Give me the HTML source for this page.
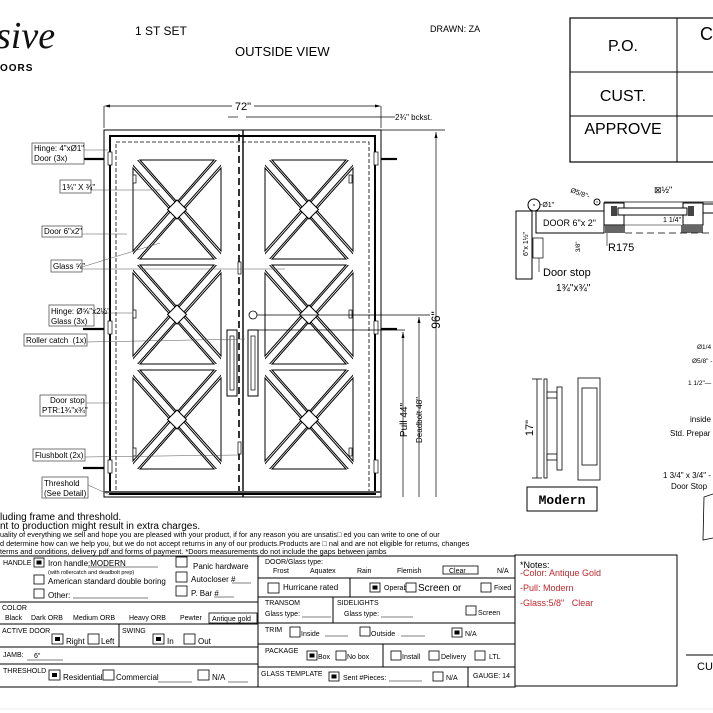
<!DOCTYPE html>
<html><head><meta charset="utf-8"><style>
html,body{margin:0;padding:0;background:#fff;}
svg{display:block;font-family:"Liberation Sans",sans-serif;}
text{white-space:pre;}
.t{font-size:8px;}
.s{font-size:7px;}
.lb{fill:#fff;stroke:#555;stroke-width:0.8;}
</style></head><body>
<svg width="713" height="713" viewBox="0 0 713 713" xmlns="http://www.w3.org/2000/svg" xml:space="preserve">
<defs>
<clipPath id="pc"><rect x="0" y="0" width="88" height="99"/></clipPath>
<g id="panel">
  <g clip-path="url(#pc)">
    <line x1="0" y1="0" x2="88" y2="99" stroke="#000" stroke-width="8"/>
    <line x1="88" y1="0" x2="0" y2="99" stroke="#000" stroke-width="8"/>
    <line x1="0" y1="0" x2="88" y2="99" stroke="#fff" stroke-width="6"/>
    <line x1="88" y1="0" x2="0" y2="99" stroke="#fff" stroke-width="6"/>
  </g>
  <polygon points="7,0 81,0 44,42" fill="none" stroke="#000" stroke-width="1"/>
  <polygon points="7,99 81,99 44,57" fill="none" stroke="#000" stroke-width="1"/>
  <polygon points="0,8 0,91 37,49.5" fill="none" stroke="#000" stroke-width="1"/>
  <polygon points="88,8 88,91 51,49.5" fill="none" stroke="#000" stroke-width="1"/>
  <polygon points="44,40 53.5,49.5 44,59 34.5,49.5" fill="#fff" stroke="#000" stroke-width="1"/>
</g>
</defs>

<text x="-4" y="48" font-family="Liberation Serif,serif" font-style="italic" font-size="38" fill="#111">sive</text>
<text x="0" y="71" font-size="10" font-weight="bold" letter-spacing="1">OORS</text>

<text x="135" y="35" font-size="12">1 ST SET</text>
<text x="235" y="56" font-size="13">OUTSIDE VIEW</text>
<text x="430" y="32" font-size="9">DRAWN: ZA</text>

<rect x="570" y="18" width="150" height="144" fill="none" stroke="#000" stroke-width="1.2"/>
<line x1="570" y1="72" x2="713" y2="72" stroke="#000"/>
<line x1="570" y1="116" x2="713" y2="116" stroke="#000"/>
<line x1="677" y1="18" x2="677" y2="162" stroke="#000"/>
<text x="623" y="51" font-size="16" text-anchor="middle">P.O.</text>
<text x="623" y="101" font-size="16" text-anchor="middle">CUST.</text>
<text x="623" y="134" font-size="16" text-anchor="middle">APPROVE</text>
<text x="700" y="40" font-size="18">C</text>

<line x1="104" y1="106" x2="104" y2="128" stroke="#000" stroke-width="0.7"/>
<line x1="381" y1="106" x2="381" y2="128" stroke="#000" stroke-width="0.7"/>
<line x1="106" y1="106" x2="232" y2="106" stroke="#000" stroke-width="0.7"/>
<line x1="254" y1="106" x2="379" y2="106" stroke="#000" stroke-width="0.7"/>
<polygon points="104,106 110,104.5 110,107.5"/><polygon points="381,106 375,104.5 375,107.5"/>
<text x="243" y="110" font-size="11" text-anchor="middle">72"</text>
<line x1="228" y1="117" x2="238" y2="117" stroke="#000" stroke-width="0.7"/>
<line x1="246" y1="117" x2="395" y2="117" stroke="#000" stroke-width="0.7"/>
<text x="395" y="120" font-size="8">2¾" bckst.</text>
<line x1="104" y1="130" x2="445" y2="130" stroke="#000" stroke-width="0.7"/>

<line x1="436" y1="132" x2="436" y2="497" stroke="#000" stroke-width="0.7"/>
<polygon points="436,132 434.5,138 437.5,138"/>
<text transform="translate(440,320) rotate(-90)" font-size="12" text-anchor="middle">96"</text>

<rect x="104" y="130" width="277" height="367" fill="none" stroke="#000" stroke-width="1"/>
<rect x="110" y="136" width="265" height="358" fill="none" stroke="#000" stroke-width="2"/>
<rect x="116" y="142" width="253" height="350" fill="none" stroke="#000" stroke-width="0.8" stroke-dasharray="4,2"/>
<line x1="239" y1="134" x2="239" y2="497" stroke="#000" stroke-width="1.6" stroke-dasharray="7,4"/>
<line x1="243" y1="130" x2="243" y2="497" stroke="#000" stroke-width="1.4"/>
<line x1="104" y1="492" x2="381" y2="492" stroke="#555" stroke-width="2"/>

<use href="#panel" x="133" y="160"/><use href="#panel" x="133" y="265"/><use href="#panel" x="133" y="370"/>
<use href="#panel" x="265" y="160"/><use href="#panel" x="265" y="265"/><use href="#panel" x="265" y="370"/>

<rect x="227" y="330" width="10" height="66" fill="#fff" stroke="#000"/>
<rect x="230" y="336" width="4" height="54" fill="none" stroke="#000" stroke-width="0.7"/>
<rect x="248" y="330" width="10" height="66" fill="#fff" stroke="#000"/>
<rect x="251" y="336" width="4" height="54" fill="none" stroke="#000" stroke-width="0.7"/>
<circle cx="253" cy="315" r="4" fill="#fff" stroke="#000" stroke-width="0.8"/>

<g fill="#fff" stroke="#000" stroke-width="0.7">
<rect x="108" y="152" width="4" height="13"/><rect x="108" y="321" width="4" height="13"/><rect x="108" y="460" width="4" height="13"/>
<rect x="374" y="152" width="4" height="13"/><rect x="374" y="321" width="4" height="13"/><rect x="374" y="460" width="4" height="13"/>
<rect x="238" y="262" width="3" height="12"/><rect x="238" y="442" width="3" height="12"/>
<rect x="133" y="175" width="3" height="8"/><rect x="133" y="310" width="3" height="8"/><rect x="133" y="448" width="3" height="8"/>
<rect x="349" y="175" width="3" height="8"/><rect x="349" y="310" width="3" height="8"/><rect x="349" y="448" width="3" height="8"/>
</g>
<g stroke="#000" stroke-width="2.2">
<line x1="83" y1="159" x2="104" y2="159"/><line x1="83" y1="329" x2="104" y2="329"/><line x1="83" y1="468" x2="104" y2="468"/>
<line x1="381" y1="159" x2="397" y2="159"/><line x1="381" y1="329" x2="397" y2="329"/>
</g>

<line x1="258" y1="330" x2="405" y2="330" stroke="#000" stroke-width="0.7"/>
<line x1="257" y1="315" x2="430" y2="315" stroke="#000" stroke-width="0.7"/>
<line x1="403" y1="332" x2="403" y2="497" stroke="#000" stroke-width="0.7"/>
<polygon points="403,332 401.5,338 404.5,338"/>
<line x1="419" y1="317" x2="419" y2="497" stroke="#000" stroke-width="0.7"/>
<polygon points="419,317 417.5,323 420.5,323"/>
<text transform="translate(407,420) rotate(-90)" font-size="10" text-anchor="middle">Pull 44"</text>
<text transform="translate(422,420) rotate(-90)" font-size="8" text-anchor="middle">Deadbolt 48"</text>

<g class="t">
<rect class="lb" x="32" y="143" width="52" height="21"/><text x="34" y="151">Hinge: 4"xØ1"</text><text x="34" y="161">Door (3x)</text>
<line x1="84" y1="150" x2="108" y2="150" stroke="#555" stroke-width="0.5"/>
<rect class="lb" x="60" y="180" width="31" height="13"/><text x="62" y="190">1¾" X ¾"</text>
<line x1="91" y1="190" x2="160" y2="190" stroke="#555" stroke-width="0.5"/>
<rect class="lb" x="42" y="226" width="40" height="11"/><text x="44" y="234">Door 6"x2"</text>
<line x1="82" y1="234" x2="127" y2="234" stroke="#555" stroke-width="0.5"/>
<rect class="lb" x="51" y="260" width="31" height="12"/><text x="53" y="269">Glass ⅝"</text>
<line x1="82" y1="267" x2="160" y2="243" stroke="#555" stroke-width="0.5"/>
<line x1="82" y1="269" x2="285" y2="269" stroke="#555" stroke-width="0.5"/>
<rect class="lb" x="49" y="305" width="45" height="21"/><text x="51" y="314">Hinge: Ø⅝"x2½"</text><text x="51" y="324">Glass (3x)</text>
<line x1="94" y1="313" x2="133" y2="313" stroke="#555" stroke-width="0.5"/>
<rect class="lb" x="24" y="334" width="63" height="12"/><text x="26" y="343">Roller catch  (1x)</text>
<line x1="87" y1="342" x2="245" y2="339" stroke="#555" stroke-width="0.5"/>
<rect class="lb" x="40" y="395" width="46" height="21"/><text x="50" y="403">Door stop</text><text x="42" y="413">PTR:1¾"x¾"</text>
<line x1="86" y1="403" x2="112" y2="403" stroke="#555" stroke-width="0.5"/>
<rect class="lb" x="33" y="449" width="52" height="12"/><text x="35" y="458">Flushbolt (2x)</text>
<line x1="85" y1="457" x2="238" y2="455" stroke="#555" stroke-width="0.5"/>
<rect class="lb" x="42" y="477" width="46" height="21"/><text x="44" y="486">Threshold</text><text x="44" y="496">(See Detail)</text>
<line x1="88" y1="485" x2="110" y2="495" stroke="#555" stroke-width="0.5"/>
</g>

<g stroke="#000" fill="#fff" stroke-width="1">
<rect x="516" y="211" width="16" height="68"/>
<rect x="536" y="211" width="68" height="22"/>
<rect x="533" y="238" width="10" height="20" stroke-width="0.7"/>
<circle cx="534" cy="205" r="6"/>
<circle cx="597" cy="202" r="3"/>
<rect x="604" y="203" width="20" height="22"/>
<rect x="683" y="203" width="20" height="22"/>
<rect x="618" y="208" width="69" height="7"/>
<rect x="703" y="204" width="12" height="9"/>
</g>
<rect x="605" y="225" width="20" height="8" fill="#666"/>
<rect x="681" y="225" width="22" height="8" fill="#666"/>
<rect x="611" y="206" width="6" height="10" fill="#444"/>
<rect x="688" y="206" width="6" height="10" fill="#444"/>
<line x1="604" y1="202" x2="713" y2="202" stroke="#000" stroke-width="0.7"/>
<line x1="625" y1="233" x2="713" y2="233" stroke="#000" stroke-width="0.8" stroke-dasharray="7,4"/>
<line x1="604" y1="225" x2="681" y2="225" stroke="#000" stroke-width="0.6"/>
<circle cx="534" cy="205" r="0.8"/><circle cx="597" cy="202" r="0.6"/>
<text x="540" y="207" font-size="7">-Ø1"</text>
<text transform="translate(570,192) rotate(20)" font-size="7">Ø5/8"-</text>
<text x="654" y="193" font-size="9">⊠½"</text>
<text x="663" y="222" font-size="7">1 1/4"</text>
<text x="543" y="226" font-size="9">DOOR 6"x 2"</text>
<text x="608" y="251" font-size="11">R175</text>
<line x1="607" y1="233" x2="607" y2="246" stroke="#000" stroke-width="0.6"/>
<text transform="translate(580,252) rotate(-90)" font-size="6">3/8"</text>
<text transform="translate(528,256) rotate(-90)" font-size="7">6"x 1½"</text>
<text x="543" y="276" font-size="11">Door stop</text>
<text x="556" y="291" font-size="10">1¾"x¾"</text>
<line x1="539" y1="258" x2="539" y2="272" stroke="#000" stroke-width="0.6"/>

<line x1="537" y1="379" x2="537" y2="478" stroke="#000" stroke-width="0.8"/>
<line x1="532" y1="379" x2="542" y2="379" stroke="#000" stroke-width="0.8"/>
<line x1="532" y1="478" x2="542" y2="478" stroke="#000" stroke-width="0.8"/>
<text transform="translate(533,428) rotate(-90)" font-size="11" text-anchor="middle">17"</text>
<g fill="#fff" stroke="#000" stroke-width="0.8">
<rect x="544" y="379" width="3" height="99"/>
<rect x="547" y="392" width="10" height="6"/><rect x="547" y="454" width="10" height="6"/>
<rect x="557" y="387" width="5" height="83"/>
<rect x="578" y="378" width="22" height="102"/>
<rect x="582" y="388" width="15" height="77"/>
<rect x="527" y="487" width="70" height="24" stroke-width="1"/>
</g>
<text x="562" y="504" font-family="Liberation Mono,monospace" font-weight="bold" font-size="13" text-anchor="middle">Modern</text>

<g font-size="6.5">
<text x="697" y="349">Ø1/4</text>
<text x="692" y="363">Ø5/8" -</text>
<text x="688" y="385">1 1/2"—</text>
<text x="690" y="422" font-size="8">inside</text>
<text x="670" y="436" font-size="8">Std. Prepar</text>
<text x="663" y="478" font-size="8">1 3/4" x 3/4" -</text>
<text x="671" y="489" font-size="8">Door Stop</text>
</g>
<polyline points="713,494 704,497 703,540 713,538" fill="none" stroke="#000" stroke-width="0.8"/>
<line x1="686" y1="655" x2="713" y2="655" stroke="#000"/>
<text x="697" y="670" font-size="11">CU</text>

<text x="0" y="520" font-size="10">luding frame and threshold.</text>
<text x="0" y="529" font-size="10">nt to production might result in extra charges.</text>
<text x="0" y="537" font-size="7.3">uality of everything we sell and hope you are pleased with your product, if for any reason you are unsatis□ ed you can write to one of our</text>
<text x="0" y="546" font-size="7.3">d determine how can we help you, but we do not accept returns in any of our products.Products are □ nal and are not eligible for returns, changes</text>
<text x="0" y="554" font-size="7.3">terms and conditions, delivery pdf and forms of payment. *Doors measurements do not include the gaps between jambs</text>

<g fill="none" stroke="#000" stroke-width="1">
<rect x="-2" y="556" width="517" height="131"/>
<line x1="258" y1="556" x2="258" y2="687"/>
<line x1="0" y1="602" x2="258" y2="602"/><line x1="0" y1="624" x2="258" y2="624"/>
<line x1="0" y1="647" x2="258" y2="647"/><line x1="0" y1="664" x2="258" y2="664"/>
<line x1="119" y1="624" x2="119" y2="647"/>
<line x1="258" y1="578" x2="515" y2="578"/><line x1="258" y1="597" x2="515" y2="597"/>
<line x1="258" y1="623" x2="515" y2="623"/><line x1="258" y1="644" x2="515" y2="644"/>
<line x1="258" y1="667" x2="515" y2="667"/>
<line x1="350" y1="578" x2="350" y2="597"/><line x1="333" y1="597" x2="333" y2="623"/>
<line x1="383" y1="644" x2="383" y2="667"/><line x1="468" y1="667" x2="468" y2="687"/>
<rect x="515" y="555" width="162" height="131"/>
</g>
<g class="s">
<text x="3" y="565">HANDLE</text>
<text x="48" y="566" font-size="8">Iron handle:MODERN</text>
<line x1="88" y1="567" x2="158" y2="567" stroke="#000" stroke-width="0.5"/>
<text x="48" y="574" font-size="5.5">(with rollercatch and deadbolt prep)</text>
<text x="48" y="584" font-size="8">American standard double boring</text>
<text x="48" y="598" font-size="8">Other:</text><line x1="73" y1="598" x2="148" y2="598" stroke="#000" stroke-width="0.6"/>
<text x="193" y="569" font-size="8">Panic hardware</text>
<text x="191" y="582" font-size="8">Autocloser #</text><line x1="232" y1="583" x2="251" y2="583" stroke="#000" stroke-width="0.6"/>
<text x="191" y="596" font-size="8">P. Bar #</text><line x1="214" y1="597" x2="234" y2="597" stroke="#000" stroke-width="0.6"/>
<text x="2" y="610">COLOR</text>
<text x="5" y="620">Black</text><text x="31" y="620">Dark ORB</text><text x="73" y="620">Medium ORB</text><text x="129" y="620">Heavy ORB</text><text x="180" y="620">Pewter</text>
<rect x="209" y="613" width="48" height="10" fill="none" stroke="#000" stroke-width="0.8"/>
<text x="212" y="621">Antique gold</text>
<text x="2" y="633">ACTIVE DOOR</text><text x="122" y="633">SWING</text>
<text x="66" y="644" font-size="8">Right</text><text x="101" y="644" font-size="8">Left</text>
<text x="167" y="644" font-size="8">In</text><text x="198" y="644" font-size="8">Out</text>
<text x="3" y="657">JAMB:</text><text x="34" y="658">6"</text><line x1="27" y1="660" x2="63" y2="660" stroke="#000" stroke-width="0.6"/>
<text x="3" y="673">THRESHOLD</text>
<text x="63" y="680" font-size="8">Residential</text><text x="116" y="680" font-size="8">Commercial</text>
<line x1="158" y1="682" x2="192" y2="682" stroke="#000" stroke-width="0.6"/>
<text x="212" y="680" font-size="8">N/A</text><line x1="228" y1="682" x2="248" y2="682" stroke="#000" stroke-width="0.6"/>

<text x="265" y="564">DOOR/Glass type:</text>
<text x="273" y="573">Frost</text><text x="310" y="573">Aquatex</text><text x="357" y="573">Rain</text><text x="397" y="573">Flemish</text>
<rect x="443" y="566" width="35" height="8" fill="none" stroke="#000" stroke-width="0.8"/>
<text x="449" y="573">Clear</text><text x="497" y="573">N/A</text>
<text x="283" y="590" font-size="8">Hurricane rated</text>
<text x="384" y="590">Operable</text><text x="418" y="591" font-size="10">Screen or</text><text x="494" y="590">Fixed</text>
<text x="265" y="605">TRANSOM</text><text x="265" y="616">Glass type:</text><line x1="302" y1="617" x2="331" y2="617" stroke="#000" stroke-width="0.6"/>
<text x="337" y="605">SIDELIGHTS</text><text x="344" y="616">Glass type:</text><line x1="381" y1="617" x2="413" y2="617" stroke="#000" stroke-width="0.6"/>
<text x="478" y="615">Screen</text>
<text x="265" y="632">TRIM</text>
<text x="301" y="636">Inside</text><line x1="325" y1="636" x2="348" y2="636" stroke="#000" stroke-width="0.6"/>
<text x="371" y="636">Outside</text><line x1="401" y1="636" x2="425" y2="636" stroke="#000" stroke-width="0.6"/>
<text x="465" y="636">N/A</text>
<text x="265" y="653">PACKAGE</text>
<text x="318" y="659">Box</text><text x="347" y="659">No box</text>
<text x="402" y="659">Install</text><text x="441" y="659">Delivery</text><text x="489" y="659">LTL</text>
<text x="261" y="676">GLASS TEMPLATE</text>
<text x="343" y="680">Sent #Pieces:</text><line x1="389" y1="681" x2="422" y2="681" stroke="#000" stroke-width="0.6"/>
<text x="446" y="680">N/A</text><text x="473" y="678">GAUGE: 14</text>
</g>
<g fill="#fff" stroke="#000" stroke-width="0.8">
<rect x="34" y="558" width="10" height="9"/><rect x="34" y="575" width="10" height="9"/><rect x="34" y="589" width="10" height="9"/>
<rect x="176" y="557" width="11" height="10"/><rect x="176" y="572" width="11" height="10"/><rect x="176" y="586" width="11" height="10"/>
<rect x="52" y="634" width="11" height="10"/><rect x="88" y="634" width="11" height="10"/>
<rect x="153" y="634" width="11" height="10"/><rect x="184" y="634" width="11" height="10"/>
<rect x="49" y="670" width="11" height="10"/><rect x="103" y="670" width="11" height="10"/><rect x="198" y="670" width="11" height="10"/>
<rect x="268" y="583" width="11" height="10"/>
<rect x="370" y="583" width="10" height="9"/><rect x="406" y="583" width="10" height="9"/><rect x="481" y="583" width="10" height="9"/>
<rect x="466" y="606" width="10" height="9"/>
<rect x="290" y="627" width="10" height="10"/><rect x="360" y="627" width="10" height="9"/><rect x="452" y="628" width="10" height="9"/>
<rect x="307" y="651" width="10" height="9"/><rect x="336" y="651" width="10" height="9"/>
<rect x="391" y="651" width="10" height="9"/><rect x="429" y="651" width="10" height="9"/><rect x="475" y="651" width="10" height="9"/>
<rect x="329" y="672" width="10" height="9"/><rect x="433" y="672" width="10" height="9"/>
</g>
<g fill="#000">
<rect x="36.5" y="560.5" width="5" height="4"/><rect x="55" y="637" width="5" height="4"/><rect x="156" y="637" width="5" height="4"/>
<rect x="52" y="673" width="5" height="4"/><rect x="372.5" y="585.5" width="5" height="4"/><rect x="454.5" y="630.5" width="5" height="4"/>
<rect x="309.5" y="653.5" width="5" height="4"/><rect x="331.5" y="674.5" width="5" height="4"/>
</g>
<text x="520" y="568" font-size="9">*Notes:</text>
<g fill="#c0282d" font-size="9">
<text x="520" y="576">-Color: Antique Gold</text>
<text x="520" y="591">-Pull: Modern</text>
<text x="520" y="606">-Glass:5/8"   Clear</text>
</g>
<line x1="0" y1="709" x2="713" y2="709" stroke="#eee"/>
</svg>
</body></html>
